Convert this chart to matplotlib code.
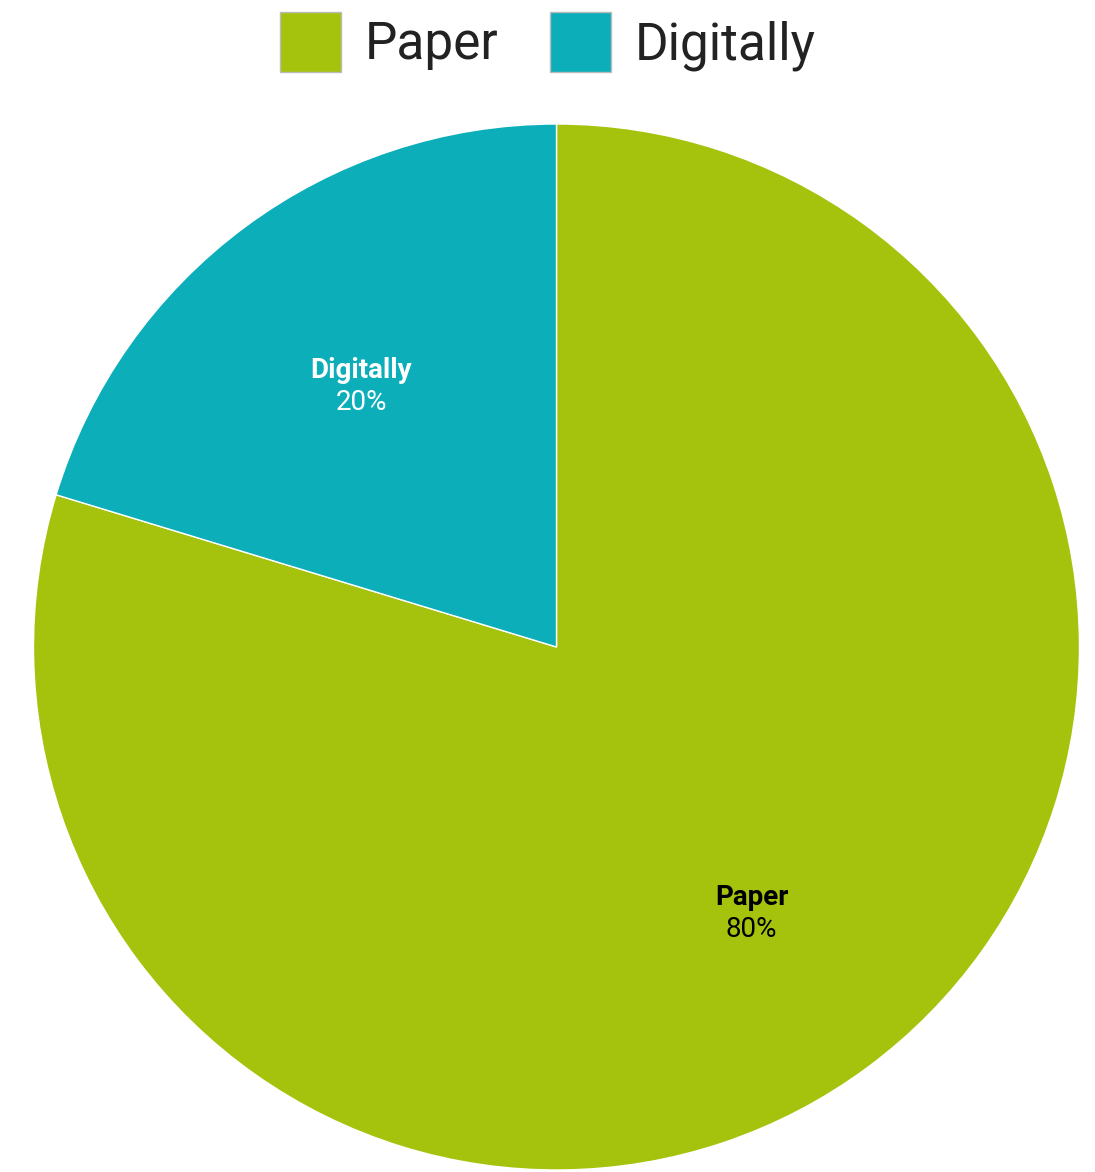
import numpy as np
import matplotlib.pyplot as plt
from matplotlib.patches import Patch

plt.rcParams['font.family'] = ['Roboto', 'DejaVu Sans']

# data
labels = ['Paper', 'Digitally']
values = [79.7, 20.3]
colors = ['#A5C30C', '#0CAEBA']
text_colors = ['black', 'white']

fig = plt.figure(figsize=(10.95, 11.72), dpi=100)
ax = fig.add_axes([33.5 / 1095, 2 / 1172, 1046 / 1095, 1046 / 1172])

wedges, _ = ax.pie(values, colors=colors, startangle=90, counterclock=False,
                   radius=1, wedgeprops=dict(edgecolor='white', linewidth=1))
ax.set_xlim(-1, 1)
ax.set_ylim(-1, 1)

total = sum(values)
# labels inside the slices
for w, lab, val, tc in zip(wedges, labels, values, text_colors):
    ang = np.deg2rad((w.theta1 + w.theta2) / 2)
    x, y = 0.627 * np.cos(ang), 0.627 * np.sin(ang)
    ax.annotate(lab, (x, y), xytext=(0, 9.5), textcoords='offset points',
                ha='center', va='center', fontsize=20, fontweight='bold', color=tc)
    ax.annotate(f"{round(val / total * 100)}%", (x, y), xytext=(0, -13.5),
                textcoords='offset points', ha='center', va='center',
                fontsize=20, color=tc)

handles = [Patch(facecolor=c, edgecolor='#BBBBBB', linewidth=1) for c in colors]
fig.legend(handles, labels, loc='upper center', bbox_to_anchor=(0.5, 1.0115),
           ncol=2, frameon=False, fontsize=37, handlelength=1.2, handleheight=1.42,
           handletextpad=0.45, columnspacing=1.0, borderaxespad=0.1,
           labelcolor='#222222')

fig.savefig('out.png', dpi=100)
